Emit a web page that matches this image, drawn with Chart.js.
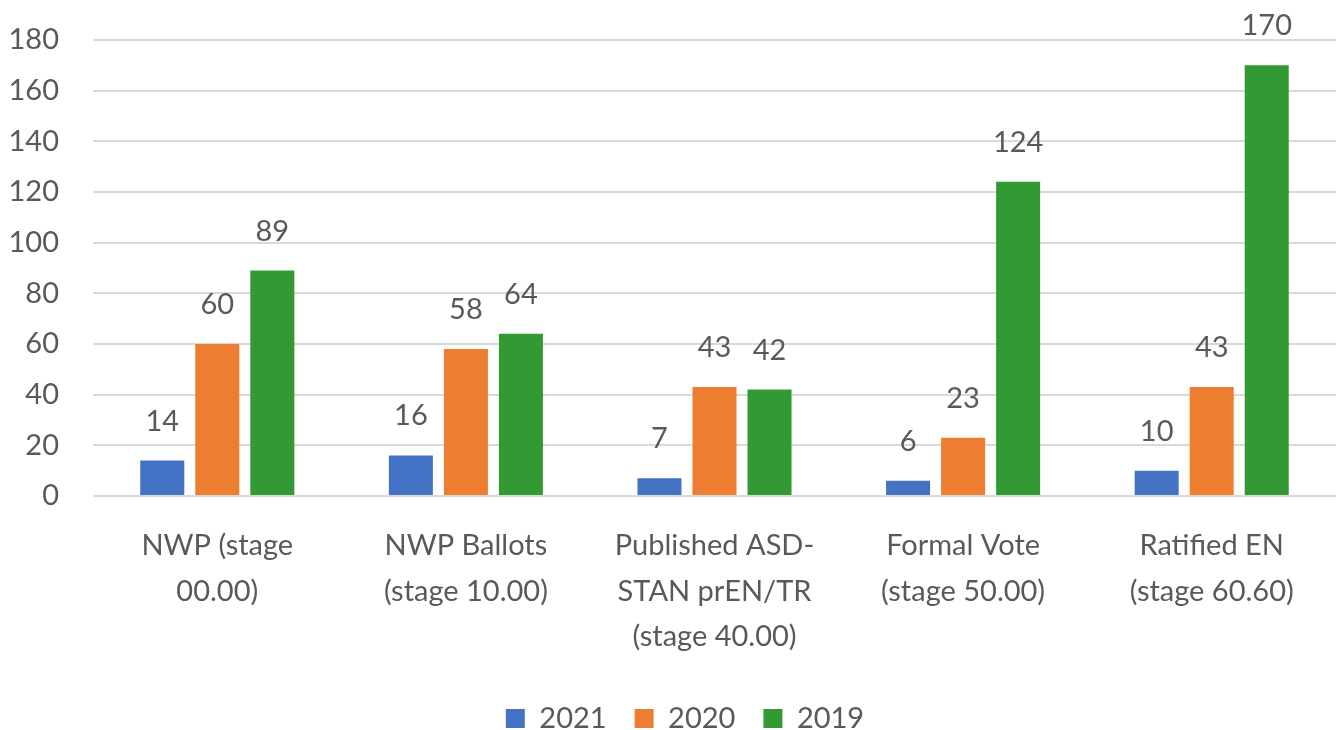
<!DOCTYPE html>
<html>
<head>
<meta charset="utf-8">
<script src="https://cdn.jsdelivr.net/npm/chart.js@4.4.1/dist/chart.umd.min.js"></script>
<style>
  html, body { margin: 0; padding: 0; background: #fff; }
  #wrap { width: 1338px; height: 730px; position: relative; }
</style>
</head>
<body>
<div id="wrap"><canvas id="stagesChart"></canvas></div>
<script>
const categories = [
  ['NWP (stage', '00.00)'],
  ['NWP Ballots', '(stage 10.00)'],
  ['Published ASD-', 'STAN prEN/TR', '(stage 40.00)'],
  ['Formal Vote', '(stage 50.00)'],
  ['Ratified EN', '(stage 60.60)']
];
const seriesNames = ['2021', '2020', '2019'];
const values2021 = [14, 16, 7, 6, 10];
const values2020 = [60, 58, 43, 23, 43];
const values2019 = [89, 64, 42, 124, 170];
const yTicks = [0, 20, 40, 60, 80, 100, 120, 140, 160, 180];

const textColor = '#595959';
const fontFamily = 'Lato, "Open Sans", sans-serif';

// draws the value above each bar
const valueLabels = {
  id: 'valueLabels',
  afterDatasetsDraw(chart) {
    const ctx = chart.ctx;
    ctx.save();
    ctx.fillStyle = textColor;
    ctx.font = '29px ' + fontFamily;
    ctx.textAlign = 'center';
    ctx.textBaseline = 'alphabetic';
    chart.data.datasets.forEach((ds, i) => {
      chart.getDatasetMeta(i).data.forEach((bar, j) => {
        ctx.fillText(String(ds.data[j]), bar.x, bar.y - 30);
      });
    });
    ctx.restore();
  }
};

// legend in the original sits a bit right of the page centre
const legendNudge = {
  id: 'legendNudge',
  afterLayout(chart) {
    chart.legend.left += 17;
    chart.legend.right += 17;
  }
};

new Chart(document.getElementById('stagesChart'), {
  type: 'bar',
  data: {
    labels: categories,
    datasets: [
      { label: seriesNames[0], data: values2021, backgroundColor: '#4472C4' },
      { label: seriesNames[1], data: values2020, backgroundColor: '#ED7D31' },
      { label: seriesNames[2], data: values2019, backgroundColor: '#339933' }
    ]
  },
  options: {
    responsive: true,
    maintainAspectRatio: false,
    animation: false,
    datasets: {
      bar: { categoryPercentage: 0.664, barPercentage: 0.8 }
    },
    layout: { padding: { top: 40, right: 2, left: 0, bottom: -13 } },
    plugins: {
      tooltip: { enabled: false },
      legend: {
        position: 'bottom',
        labels: {
          color: textColor,
          font: { family: fontFamily, size: 29 },
          boxWidth: 19,
          boxHeight: 19,
          padding: 28
        }
      }
    },
    scales: {
      x: {
        grid: { display: false },
        border: { display: false },
        ticks: {
          color: textColor,
          font: { family: fontFamily, size: 29, lineHeight: 1.57 },
          maxRotation: 0,
          autoSkip: false,
          padding: 19
        },
        afterFit(scale) { scale.height = 180; }
      },
      y: {
        min: 0,
        max: 180,
        afterBuildTicks(scale) { scale.ticks = yTicks.map(v => ({ value: v })); },
        grid: { color: '#D9D9D9', lineWidth: 2, drawTicks: false },
        border: { display: false },
        ticks: {
          color: textColor,
          font: { family: fontFamily, size: 29 },
          padding: 34
        },
        afterFit(scale) {
          scale.width = 93;
          scale.paddingTop = 0;
          scale.paddingBottom = 0;
        }
      }
    }
  },
  plugins: [valueLabels, legendNudge]
});
</script>
</body>
</html>
